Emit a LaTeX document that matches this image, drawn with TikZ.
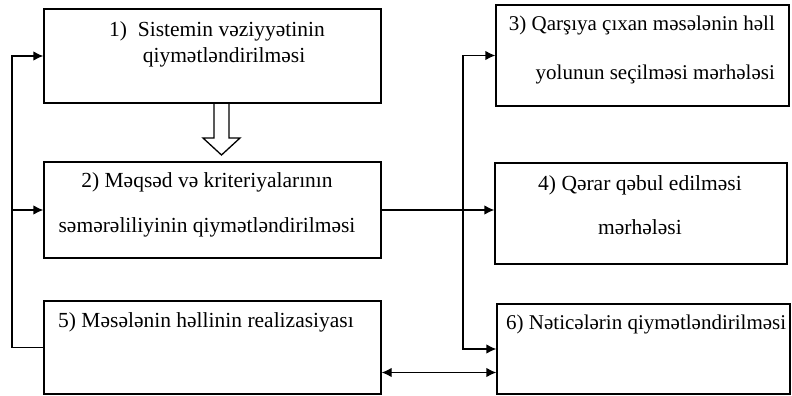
\documentclass[tikz,border=0pt]{standalone}
\usepackage{fontspec}
\setmainfont{Liberation Serif}
\usetikzlibrary{arrows.meta}
\tikzset{
  box/.style={draw, line width=1.3pt, inner sep=0pt},
  lbl/.style={inner sep=0pt, font=\fontsize{21.5}{26}\selectfont},
  tip/.tip={Latex[length=10pt,width=9.5pt]},
  conn/.style={line width=1.3pt, -tip}
}
\begin{document}
\begin{tikzpicture}[x=1pt, y=-1pt]
  \useasboundingbox (0,0) rectangle (792,396);
  % boxes: name/x/y/width/height
  \foreach \n/\x/\y/\w/\h in {b1/212.5/56/337/94, b2/212.5/210/337/96, b3/642.5/55.5/293/101, b4/641/213.5/292/101, b5/212.5/347.5/337/93, b6/643.5/349/293/90} {
    \node[box, minimum width=\w pt, minimum height=\h pt] (\n) at (\x,\y) {};
  }
  \node[lbl, anchor=base, align=center] (t1) at (217,63) {1)~ Sistemin vəziyyətinin\\\hspace*{14pt}qiymətləndirilməsi};
  \node[lbl, anchor=base, align=center] (t2) at (207,232) {2) Məqsəd və kriteriyalarının\\[19pt] səmərəliliyinin qiymətləndirilməsi};
  \node[lbl, anchor=base east, align=right, font=\fontsize{21}{26}\selectfont] (t3) at (775,80) {3) Qarşıya çıxan məsələnin həll\\[24pt] yolunun seçilməsi mərhələsi};
  \node[lbl, anchor=base, align=center] (t4) at (640,234) {4) Qərar qəbul edilməsi\\[18pt] mərhələsi};
  \node[lbl, anchor=base west] (t5) at (58,327) {5) Məsələnin həllinin realizasiyası};
  \node[lbl, anchor=base west, font=\fontsize{21}{26}\selectfont] (t6) at (506,329) {6) Nəticələrin qiymətləndirilməsi};
  % hollow arrow 1 -> 2
  \draw[line width=1.3pt] (214,103) -- (214,138) -- (203,138) -- (221.5,155) -- (240,138) -- (229,138) -- (229,103);
  % connectors
  \coordinate (lp) at (12,0);
  \coordinate (rp) at (463,0);
  \draw[conn] (b5.west) -- (b5.west -| lp) |- (b1.west);
  \draw[conn] (b2.west -| lp) -- (b2.west);
  \draw[conn] (b2.east) -- (b2.east -| b4.west);
  \draw[conn] (b3.west -| rp) -- (b3.west);
  \draw[conn] (b3.west -| rp) |- (b6.west);
  \draw[conn, tip-tip] ([yshift=-25pt]b5.east) -- ([yshift=-25pt]b5.east -| b6.west);
\end{tikzpicture}
\end{document}
